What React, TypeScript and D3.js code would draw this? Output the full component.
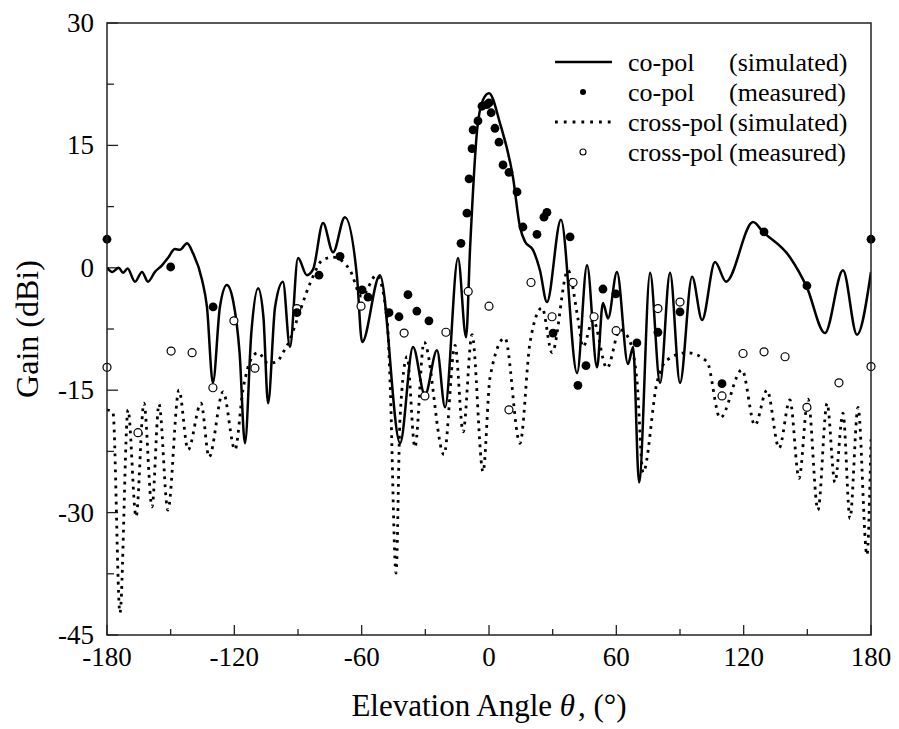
import React from "react";
import * as d3 from "d3";

const xTicks = [-180, -150, -120, -90, -60, -30, 0, 30, 60, 90, 120, 150, 180];
const xTickLabels = [-180, -120, -60, 0, 60, 120, 180];
const yTicks = [-45, -37.5, -30, -22.5, -15, -7.5, 0, 7.5, 15, 22.5, 30];
const yTickLabels = [-45, -30, -15, 0, 15, 30];

const coPolSimulated: [number, number][] = [
  [-180, 0.0], [-177.5, -0.5], [-174.5, 0.0], [-172.5, -0.6], [-170.3, -0.1],
  [-166.8, -1.7], [-163.5, -0.5], [-160.7, -1.7], [-157.4, -0.5], [-154.1, 0.3],
  [-151.3, 1.2], [-148.0, 2.3], [-145.6, 2.2], [-142.3, 3.0], [-139.5, 1.8],
  [-135.2, -1.5], [-132.9, -4.8], [-130.1, -14.1], [-126.8, -4.8], [-123.5, -2.1],
  [-120.6, -4.0], [-117.5, -10.5], [-115.0, -21.5], [-112.0, -8.0], [-108.8, -2.5],
  [-106.3, -6.0], [-104.1, -16.6], [-100.8, -4.8], [-97.1, -1.7], [-93.8, -9.7],
  [-90.0, 1.2], [-85.8, -0.9], [-82.9, -0.2], [-78.2, 5.5], [-73.5, 1.9],
  [-67.9, 6.2], [-62.2, -1.1], [-59.8, -9.1], [-51.4, -0.9], [-41.9, -21.5],
  [-35.8, -9.7], [-30.2, -15.6], [-24.5, -10.1], [-20.7, -17.1], [-14.6, 1.2],
  [-10.8, -8.5], [-8.9, 2.5], [-5.6, 16.9], [-2.8, 20.6], [0, 21.4],
  [5.2, 17.7], [11.3, 11.1], [14.6, 5.0], [17.0, 3.2], [20.7, 2.2],
  [24.0, -0.3], [27.3, -4.2], [33.9, 5.9], [41.5, -12.9], [46.2, 0.3],
  [50.9, -12.2], [53.7, -4.3], [56.1, -6.2], [60.3, -0.5], [65.5, -11.8],
  [67.9, -9.7], [70.7, -26.3], [75.9, -0.6], [80.6, -14.1], [85.3, -0.6],
  [90.0, -14.1], [95.7, -1.1], [100.4, -6.4], [106.5, 0.7], [111.7, -1.7],
  [124.4, 5.6], [129.1, 4.4], [141.8, 1.3], [149.8, -2.4], [158.3, -8.0],
  [166.8, -0.3], [173.4, -8.2], [180, -0.5],
];

const coPolMeasured: [number, number][] = [
  [-180, 3.5], [-150, 0.1], [-130, -4.8], [-90.5, -5.5], [-80.1, -0.9], [-70.2, 1.4],
  [-59.8, -2.7], [-57.0, -3.6], [-47.1, -5.5], [-42.4, -6.0], [-38.2, -3.3], [-34.0, -5.3],
  [-28.3, -6.5], [-13.2, 3.0], [-10.4, 6.7], [-9.4, 10.9], [-8.0, 14.6], [-7.5, 16.9],
  [-5.2, 18.0], [-3.3, 19.8], [-1.0, 20.0], [0, 20.2], [1.0, 19.0], [2.8, 17.1],
  [4.7, 15.4], [6.6, 12.6], [9.4, 11.7], [13.2, 9.3], [16.0, 5.0], [22.6, 4.1],
  [25.9, 6.2], [27.3, 6.8], [30.2, -8.0], [38.2, 3.8], [41.9, -14.4], [45.7, -12.0],
  [53.7, -2.6], [59.8, -3.2], [69.7, -9.2], [79.6, -7.9], [90.0, -5.4], [109.8, -14.2],
  [129.6, 4.4], [149.8, -2.2], [180, 3.5],
];

const crossPolSimulated: [number, number][] = [
  [-180, -17.4], [-177.2, -17.7], [-173.9, -42.3], [-170.1, -17.4], [-166.3, -30.5],
  [-162.6, -16.6], [-158.8, -29.3], [-155.5, -16.7], [-151.3, -29.7], [-146.1, -15.0],
  [-141.8, -22.3], [-135.7, -16.6], [-131.9, -23.2], [-125.3, -15.2], [-119.7, -22.3],
  [-115.9, -14.9], [-111.7, -11.0], [-108.8, -10.4], [-104.1, -11.7], [-99.9, -11.5],
  [-97.1, -10.4], [-93.8, -8.8], [-90.5, -6.4], [-84.3, -1.9], [-78.2, 1.0],
  [-73.5, 1.3], [-65.5, -0.3], [-60.0, -3.5], [-53.0, -0.9], [-48.1, -6.0],
  [-46.6, -14.1], [-43.8, -37.4], [-41.9, -18.3], [-38.6, -10.9], [-34.9, -22.0],
  [-30.6, -9.1], [-21.2, -22.9], [-16.0, -9.5], [-12.2, -20.1], [-8.0, -8.2],
  [-2.8, -25.0], [0.5, -13.4], [7.5, -8.6], [14.6, -21.5], [19.3, -9.2],
  [25.0, -4.9], [29.7, -10.4], [37.2, -0.3], [41.9, -6.2], [44.3, -9.7],
  [49.0, -6.4], [55.6, -12.3], [61.7, -7.6], [65.5, -8.5], [69.7, -13.8],
  [72.6, -25.1], [79.2, -14.0], [83.9, -11.3], [93.3, -10.4], [102.7, -11.5],
  [108.9, -18.4], [119.2, -12.5], [125.3, -19.3], [131.0, -15.0], [136.7, -22.1],
  [141.8, -16.2], [146.1, -25.8], [150.3, -16.1], [155.0, -29.7], [159.3, -16.6],
  [163.0, -26.3], [166.8, -17.8], [170.1, -30.7], [173.9, -17.1], [178.1, -35.2],
  [180, -21.0],
];

const crossPolMeasured: [number, number][] = [
  [-180, -12.2], [-165.4, -20.2], [-149.8, -10.2], [-139.9, -10.4], [-130.1, -14.7],
  [-120.2, -6.5], [-110.3, -12.3], [-90.5, -5.0], [-60.3, -4.7], [-40.0, -8.0],
  [-30.2, -15.7], [-20.3, -7.9], [-9.8, -2.9], [0, -4.7], [9.4, -17.4], [19.8, -1.8],
  [29.7, -6.0], [39.6, -1.8], [49.5, -6.0], [59.9, -7.7], [79.6, -5.0], [90.0, -4.2],
  [109.8, -15.7], [119.7, -10.5], [129.6, -10.3], [139.5, -10.9], [149.8, -17.1],
  [164.9, -14.1], [180, -12.1],
];

const legendNames = ["co-pol", "co-pol", "cross-pol", "cross-pol"];
const legendKinds = ["(simulated)", "(measured)", "(simulated)", "(measured)"];

const FONT = "'Liberation Serif', 'Times New Roman', Times, serif";

export default function App() {
  const L = 107, R = 871, T = 23, B = 635;
  const x = d3.scaleLinear().domain([-180, 180]).range([L, R]);
  const y = d3.scaleLinear().domain([-45, 30]).range([B, T]);
  const line = d3
    .line<[number, number]>()
    .x((d) => x(d[0]))
    .y((d) => y(d[1]))
    .curve(d3.curveMonotoneX);

  const legendRows = [62, 92, 122, 152];

  return (
    <svg
      width={899}
      height={729}
      style={{ position: "absolute", left: 0, top: 0, background: "#fff" }}
      fontFamily={FONT}
    >
      <defs>
        <clipPath id="plotclip">
          <rect x={L} y={T} width={R - L} height={B - T} />
        </clipPath>
      </defs>
      <rect x={0} y={0} width={899} height={729} fill="#fff" />

      {/* ticks */}
      {xTicks.map((t) => {
        const major = xTickLabels.includes(t);
        return (
          <line key={"xt" + t} x1={x(t)} x2={x(t)} y1={B} y2={B - (major ? 10 : 6)} stroke="#222" strokeWidth={1.3} />
        );
      })}
      {yTicks.map((t) => {
        const major = yTickLabels.includes(t);
        return (
          <line key={"yt" + t} x1={L} x2={L + (major ? 11 : 7)} y1={y(t)} y2={y(t)} stroke="#222" strokeWidth={1.3} />
        );
      })}

      {/* lines */}
      <g clipPath="url(#plotclip)">
        <path d={line(crossPolSimulated) || ""} fill="none" stroke="#000" strokeWidth={2.8} strokeDasharray="2.8 5.2" />
        <path d={line(coPolSimulated) || ""} fill="none" stroke="#000" strokeWidth={2.5} strokeLinejoin="round" />
      </g>
      {crossPolMeasured.map((d, i) => (
        <circle key={"cm" + i} cx={x(d[0])} cy={y(d[1])} r={4.0} fill="#fff" stroke="#000" strokeWidth={1.2} />
      ))}
      {coPolMeasured.map((d, i) => (
        <circle key={"pm" + i} cx={x(d[0])} cy={y(d[1])} r={4.4} fill="#000" />
      ))}

      {/* frame */}
      <rect x={L} y={T} width={R - L} height={B - T} fill="none" stroke="#222" strokeWidth={1.5} />

      {/* tick labels */}
      {yTickLabels.map((t) => (
        <text key={"yl" + t} x={94} y={y(t) + 9} textAnchor="end" fontSize={27} fill="#000">
          {t}
        </text>
      ))}
      {xTickLabels.map((t) => (
        <text key={"xl" + t} x={x(t)} y={666} textAnchor="middle" fontSize={27} fill="#000">
          {t}
        </text>
      ))}

      {/* axis titles */}
      <text x={(L + R) / 2} y={716} textAnchor="middle" fontSize={31} fill="#000">
        Elevation Angle <tspan fontStyle="italic">θ</tspan>
        <tspan dx={3}>, (°)</tspan>
      </text>
      <text transform={`translate(38, ${(T + B) / 2}) rotate(-90)`} textAnchor="middle" fontSize={32} fill="#000">
        Gain (dBi)
      </text>

      {/* legend */}
      <g>
        <line x1={555} x2={612} y1={legendRows[0]} y2={legendRows[0]} stroke="#000" strokeWidth={2.5} />
        <circle cx={583} cy={legendRows[1]} r={3.0} fill="#000" />
        <line x1={555} x2={612} y1={legendRows[2]} y2={legendRows[2]} stroke="#000" strokeWidth={2.8} strokeDasharray="2.8 6" />
        <circle cx={583} cy={legendRows[3]} r={3.0} fill="#fff" stroke="#000" strokeWidth={1.1} />
        {legendRows.map((ry, i) => (
          <g key={"lg" + i}>
            <text x={628} y={ry + 9} fontSize={26} fill="#000">
              {legendNames[i]}
            </text>
            <text x={729} y={ry + 9} fontSize={26} fill="#000">
              {legendKinds[i]}
            </text>
          </g>
        ))}
      </g>
    </svg>
  );
}
